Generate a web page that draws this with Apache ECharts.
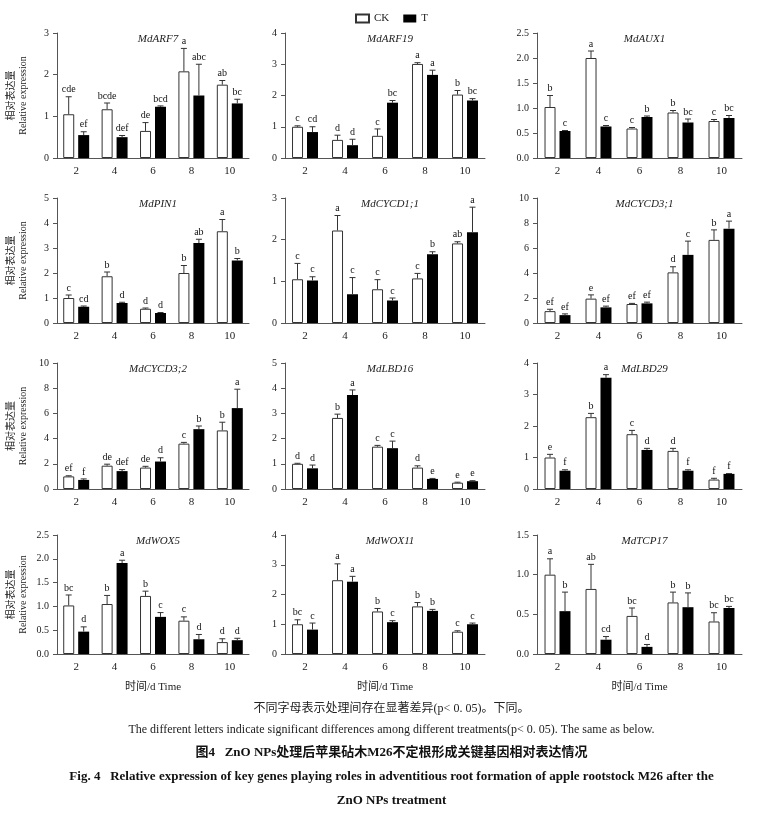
<!DOCTYPE html>
<html>
<head>
<meta charset="utf-8">
<script src="https://cdn.jsdelivr.net/npm/echarts@6/dist/echarts.min.js"></script>
<style>
html,body{margin:0;padding:0;background:#fff;}
#chart{width:783px;height:814px;}
</style>
</head>
<body>
<div id="chart"></div>
<script>
var days = ['2', '4', '6', '8', '10'];
// name, max, interval, decimals, CK [v, sd, letter], T [v, sd, letter]
var genes = [
    ['MdARF7', 3, 1, 0,
        [[1.05,0.42,'cde'],[1.17,0.15,'bcde'],[0.65,0.2,'de'],[2.08,0.55,'a'],[1.76,0.1,'ab']],
        [[0.55,0.08,'ef'],[0.5,0.04,'def'],[1.23,0.02,'bcd'],[1.5,0.75,'abc'],[1.31,0.1,'bc']]],
    ['MdARF19', 4, 1, 0,
        [[1.0,0.03,'c'],[0.58,0.15,'d'],[0.71,0.22,'c'],[3.01,0.04,'a'],[2.03,0.13,'b']],
        [[0.83,0.17,'cd'],[0.41,0.19,'d'],[1.77,0.07,'bc'],[2.66,0.15,'a'],[1.84,0.06,'bc']]],
    ['MdAUX1', 2.5, 0.5, 1,
        [[1.02,0.23,'b'],[2.0,0.14,'a'],[0.59,0.02,'c'],[0.91,0.04,'b'],[0.74,0.03,'c']],
        [[0.54,0.01,'c'],[0.63,0.02,'c'],[0.82,0.02,'b'],[0.71,0.07,'bc'],[0.8,0.05,'bc']]],
    ['MdPIN1', 5, 1, 0,
        [[1.0,0.12,'c'],[1.87,0.17,'b'],[0.57,0.03,'d'],[2.0,0.3,'b'],[3.67,0.47,'a']],
        [[0.65,0.03,'cd'],[0.8,0.03,'d'],[0.4,0.02,'d'],[3.2,0.15,'ab'],[2.5,0.08,'b']]],
    ['MdCYCD1;1', 3, 1, 0,
        [[1.05,0.38,'c'],[2.22,0.36,'a'],[0.81,0.23,'c'],[1.07,0.12,'c'],[1.91,0.04,'ab']],
        [[1.02,0.09,'c'],[0.69,0.4,'c'],[0.54,0.06,'c'],[1.65,0.06,'b'],[2.18,0.6,'a']]],
    ['MdCYCD3;1', 10, 2, 0,
        [[0.95,0.15,'ef'],[1.95,0.3,'e'],[1.52,0.05,'ef'],[4.05,0.45,'d'],[6.65,0.8,'b']],
        [[0.63,0.1,'ef'],[1.25,0.1,'ef'],[1.57,0.1,'ef'],[5.45,1.1,'c'],[7.55,0.6,'a']]],
    ['MdCYCD3;2', 10, 2, 0,
        [[1.0,0.05,'ef'],[1.85,0.12,'de'],[1.7,0.1,'de'],[3.6,0.1,'c'],[4.65,0.65,'b']],
        [[0.72,0.08,'f'],[1.42,0.12,'def'],[2.18,0.3,'d'],[4.75,0.25,'b'],[6.42,1.5,'a']]],
    ['MdLBD16', 5, 1, 0,
        [[1.0,0.02,'d'],[2.82,0.15,'b'],[1.68,0.05,'c'],[0.85,0.07,'d'],[0.25,0.02,'e']],
        [[0.82,0.13,'d'],[3.73,0.2,'a'],[1.62,0.28,'c'],[0.4,0.02,'e'],[0.31,0.02,'e']]],
    ['MdLBD29', 4, 1, 0,
        [[1.0,0.1,'e'],[2.28,0.12,'b'],[1.74,0.12,'c'],[1.21,0.08,'d'],[0.3,0.04,'f']],
        [[0.58,0.03,'f'],[3.53,0.1,'a'],[1.24,0.05,'d'],[0.58,0.03,'f'],[0.48,0.01,'f']]],
    ['MdWOX5', 2.5, 0.5, 1,
        [[1.02,0.22,'bc'],[1.05,0.18,'b'],[1.22,0.1,'b'],[0.7,0.08,'c'],[0.25,0.07,'d']],
        [[0.47,0.1,'d'],[1.91,0.06,'a'],[0.78,0.09,'c'],[0.31,0.1,'d'],[0.29,0.04,'d']]],
    ['MdWOX11', 4, 1, 0,
        [[1.0,0.15,'bc'],[2.48,0.55,'a'],[1.43,0.1,'b'],[1.6,0.13,'b'],[0.75,0.03,'c']],
        [[0.82,0.22,'c'],[2.43,0.18,'a'],[1.07,0.05,'c'],[1.45,0.05,'b'],[1.0,0.04,'c']]],
    ['MdTCP17', 1.5, 0.5, 1,
        [[1.0,0.2,'a'],[0.82,0.31,'ab'],[0.48,0.1,'bc'],[0.65,0.13,'b'],[0.41,0.11,'bc']],
        [[0.54,0.24,'b'],[0.18,0.04,'cd'],[0.09,0.03,'d'],[0.59,0.18,'b'],[0.58,0.02,'bc']]]
];

var font = '"Liberation Serif", "Noto Sans CJK SC", serif';
var cols = [[57, 192], [285, 200], [537, 205]];
var rows = [[33, 125], [198, 125], [363, 126], [535, 119]];
var barW = 11, off = 7.5;

var grids = [], xAxes = [], yAxes = [], series = [], titles = [];

function errSeries(i, d, shift) {
    return {
        type: 'custom', xAxisIndex: i, yAxisIndex: i, z: 5,
        data: d.map(function (p, k) { return [k, p[0], p[1], p[2]]; }),
        renderItem: function (params, api) {
            var v = api.value(1), e = api.value(2);
            var lo = api.coord([api.value(0), v]);
            var hi = api.coord([api.value(0), v + e]);
            var x = lo[0] + shift;
            var st = { stroke: '#333', lineWidth: 1 };
            return {
                type: 'group', children: [
                    { type: 'line', shape: { x1: x, y1: lo[1], x2: x, y2: hi[1] }, style: st },
                    { type: 'line', shape: { x1: x - 3, y1: hi[1], x2: x + 3, y2: hi[1] }, style: st },
                    { type: 'text', x: x, y: hi[1] - 2, style: {
                        text: d[params.dataIndex][2], textAlign: 'center', textVerticalAlign: 'bottom',
                        font: '10px ' + font, fill: '#111' } }
                ]
            };
        }
    };
}

genes.forEach(function (g, i) {
    var c = cols[i % 3], r = rows[Math.floor(i / 3)];
    grids.push({ left: c[0], top: r[0], width: c[1], height: r[1] });
    titles.push({ text: g[0], left: c[0] + c[1] / 2, top: r[0] - 4, textAlign: 'center',
        textStyle: { fontFamily: font, fontStyle: 'italic', fontWeight: 'normal', fontSize: 11, color: '#222' } });
    xAxes.push({
        type: 'category', gridIndex: i, data: days,
        axisLine: { lineStyle: { color: '#555' } },
        axisTick: { alignWithLabel: true, length: 4, lineStyle: { color: '#555' } },
        axisLabel: { fontFamily: font, fontSize: 11, color: '#222' },
        name: i >= 9 ? '时间/d Time' : '', nameLocation: 'middle', nameGap: 28,
        nameTextStyle: { fontFamily: font, fontSize: 11, color: '#222' }
    });
    yAxes.push({
        type: 'value', gridIndex: i, min: 0, max: g[1], interval: g[2],
        splitLine: { show: false },
        axisLine: { show: true, lineStyle: { color: '#555' } },
        axisTick: { show: true, length: 4, lineStyle: { color: '#555' } },
        axisLabel: { fontFamily: font, fontSize: 10, color: '#222',
            formatter: function (v) { return v.toFixed(g[3]); } },
        name: i % 3 === 0 ? '相对表达量\nRelative expression' : '', nameLocation: 'middle', nameGap: 28,
        nameTextStyle: { fontFamily: font, fontSize: 10, color: '#222', lineHeight: 12 }
    });
    series.push({
        name: 'CK', type: 'bar', xAxisIndex: i, yAxisIndex: i, barWidth: barW, barGap: '36%',
        data: g[4].map(function (p) { return p[0]; }),
        itemStyle: { color: '#fff', borderColor: '#333', borderWidth: 1 }
    });
    series.push({
        name: 'T', type: 'bar', xAxisIndex: i, yAxisIndex: i, barWidth: barW,
        data: g[5].map(function (p) { return p[0]; }),
        itemStyle: { color: '#000' }
    });
    series.push(errSeries(i, g[4], -off));
    series.push(errSeries(i, g[5], off));
});

var chart = echarts.init(document.getElementById('chart'));
chart.setOption({
    backgroundColor: '#fff',
    animation: false,
    title: titles,
    legend: {
        top: 8, left: 'center', data: ['CK', 'T'], icon: 'rect', itemWidth: 13, itemHeight: 8, itemGap: 14,
        textStyle: { fontFamily: font, fontSize: 11, color: '#222' }
    },
    grid: grids,
    xAxis: xAxes,
    yAxis: yAxes,
    series: series,
    graphic: [
        { type: 'text', left: 'center', top: 703, style: { text: '不同字母表示处理间存在显著差异(p< 0. 05)。下同。', font: '12px ' + font, fill: '#222' } },
        { type: 'text', left: 'center', top: 724, style: { text: 'The different letters indicate significant differences among different treatments(p< 0. 05). The same as below.', font: '12px ' + font, fill: '#222' } },
        { type: 'text', left: 'center', top: 746, style: { text: '图4   ZnO NPs处理后苹果砧木M26不定根形成关键基因相对表达情况', font: 'bold 13px ' + font, fill: '#111' } },
        { type: 'text', left: 'center', top: 770, style: { text: 'Fig. 4   Relative expression of key genes playing roles in adventitious root formation of apple rootstock M26 after the', font: 'bold 13px ' + font, fill: '#111' } },
        { type: 'text', left: 'center', top: 794, style: { text: 'ZnO NPs treatment', font: 'bold 13px ' + font, fill: '#111' } }
    ]
});
</script>
</body>
</html>
